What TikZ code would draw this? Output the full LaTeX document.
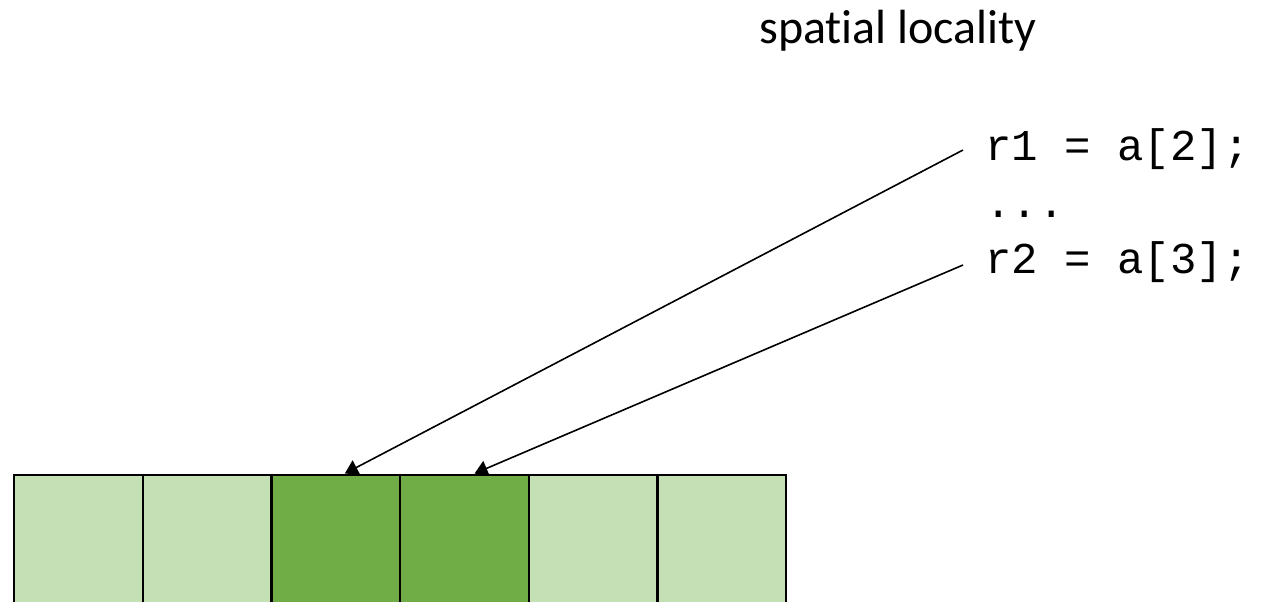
\documentclass[tikz,border=0pt]{standalone}
\usepackage{fontspec}
\setmainfont{Carlito}[Ligatures=NoCommon]
\setmonofont{Liberation Mono}
\usetikzlibrary{arrows.meta,calc}
\definecolor{cellLight}{HTML}{C5E0B4}
\definecolor{cellDark}{HTML}{70AD47}

\begin{document}
\begin{tikzpicture}[x=0.5pt,y=-0.5pt,>={Triangle[length=6.5pt,width=8pt]},
  cell/.style={draw,line width=1.2pt,minimum width=64.33pt,minimum height=80pt,
    inner sep=0pt,anchor=north west},
  code/.style={font=\ttfamily\fontsize{22}{26}\selectfont,anchor=base west,inner sep=0pt}]
  \useasboundingbox (0,0) rectangle (1286,601);
  \clip (0,0) rectangle (1286,601);
  \node[font=\fontsize{24}{28}\selectfont,anchor=base] (title) at (898,43) {spatial locality};
  % array cells
  \foreach \i/\c in {0/cellLight,1/cellLight,2/cellDark,3/cellDark,4/cellLight,5/cellLight}
    \node[cell,fill=\c] (c\i) at ({13+128.67*\i},473.5) {};
  % code
  \node[code] (r1) at (985,160) {r1 = a[2];};
  \node[code] (dots) at (985,217) {...};
  \node[code] (r2) at (985,273) {r2 = a[3];};
  \draw[->,line width=0.8pt] ($(r1.base west)+(-22,-10)$) -- ($(c2.north)+(9,0)$);
  \draw[->,line width=0.8pt] ($(r2.base west)+(-22,-8)$) -- ($(c3.north)+(10,0)$);
\end{tikzpicture}
\end{document}
